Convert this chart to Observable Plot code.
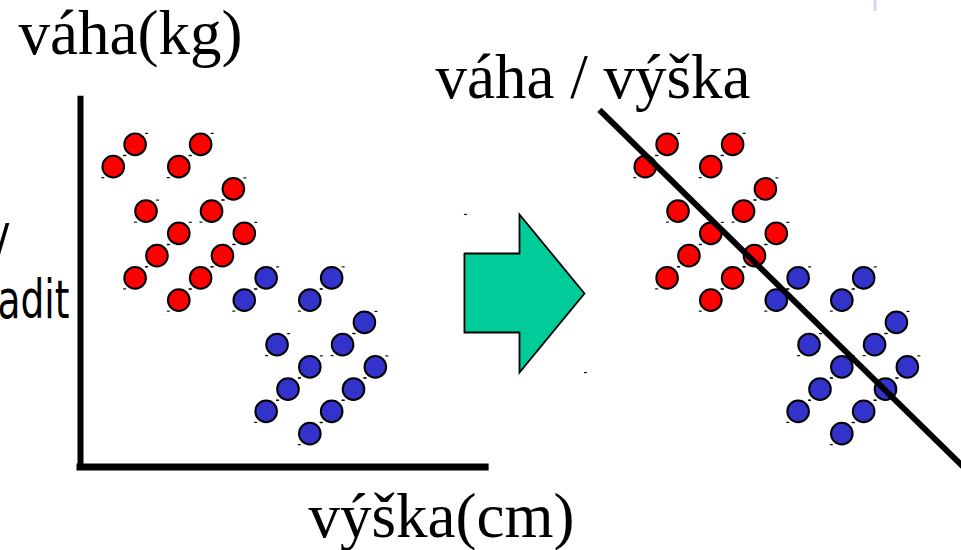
<!DOCTYPE html>
<html>
<head>
<meta charset="utf-8">
<script src="https://cdn.jsdelivr.net/npm/d3@7"></script>
<script src="https://cdn.jsdelivr.net/npm/@observablehq/plot@0.6"></script>
<style>
  html, body { margin: 0; padding: 0; background: #fff; overflow: hidden; }
</style>
</head>
<body>
<div id="chart"></div>
<script>
// ---- data (schematic units; x = výška, y = váha, axis origin at 0,0) ----
const redX  = [5, 3, 11, 9, 14, 6, 12, 9, 15, 7, 13, 5, 11, 9];
const redY  = [29, 27, 29, 27, 25, 23, 23, 21, 21, 19, 19, 17, 17, 15];
const blueX = [17, 15, 23, 21, 26, 18, 24, 21, 27, 19, 25, 17, 23, 21];
const blueY = [17, 15, 17, 15, 13, 11, 11, 9, 9, 7, 7, 5, 5, 3];

// axis extents (left panel)
const axisXExtent = [0, 37.1];   // výška axis
const axisYExtent = [0, 33.05];  // váha axis

// separating line (right panel)
const splitX = [-1.2, 36.6];
const splitY = [32.1, -4.3];

// arrow: tail, neck, tip (x) and head bottom, shaft bottom, centre, shaft top, head top (y)
const arrowX = [35.16, 40.2, 46.15];
const arrowY = [8.49, 12.09, 15.6, 19.19, 22.7];

// slide artifact at top right
const markX = [72.76];
const markY = [41.93, 40.94];

const labelY = "váha(kg)";
const labelX = "výška(cm)";
const labelRight = "váha / výška";
const fragments = ["y", "adit"];

// ---- build tables ----
const red = redX.map((x, i) => ({x, y: redY[i]}));
const blue = blueX.map((x, i) => ({x, y: blueY[i]}));
const split = splitX.map((x, i) => ({x, y: splitY[i]}));
const [tail, neck, tip] = arrowX;
const [hb, sb, mid, st, ht] = arrowY;
const arrow = [
  {x: tail, y: st}, {x: neck, y: st}, {x: neck, y: ht}, {x: tip, y: mid},
  {x: neck, y: hb}, {x: neck, y: sb}, {x: tail, y: sb}, {x: tail, y: st}
];
const arrowCorners = [{x: tail, y: ht}, {x: tip, y: hb}];

const dash = {draw(ctx) { ctx.moveTo(-1.5, -0.6); ctx.lineTo(1.5, -0.6); ctx.lineTo(1.5, 0.6); ctx.lineTo(-1.5, 0.6); ctx.closePath(); }};

const serif = "'Liberation Serif', 'Times New Roman', serif";
const sans = "'DejaVu Sans Condensed', 'DejaVu Sans', sans-serif";
const OFFSET = 532; // right panel shift (px)

function cluster(data, color, shift) {
  return [
    Plot.dot(data, {x: "x", y: "y", r: 10.8, fill: color, stroke: "black", strokeWidth: 2, dx: shift}),
    Plot.dot(data, {x: "x", y: "y", symbol: dash, fill: "#111", stroke: "none", dx: shift + 11.5, dy: -11}),
    Plot.dot(data, {x: "x", y: "y", symbol: dash, fill: "#111", stroke: "none", dx: shift - 10.5, dy: 11})
  ];
}

const chart = Plot.plot({
  width: 961,
  height: 550,
  margin: 0,
  style: {background: "white", color: "black"},
  x: {domain: [-80 / 10.92, (961 - 80) / 10.92], axis: null},
  y: {domain: [(466.5 - 550) / 11.125, 466.5 / 11.125], axis: null},
  marks: [
    // left panel axes
    Plot.ruleX([axisXExtent[0]], {y1: axisYExtent[0], y2: axisYExtent[1], stroke: "black", strokeWidth: 6, strokeLinecap: "square"}),
    Plot.ruleY([axisYExtent[0]], {x1: axisXExtent[0], x2: axisXExtent[1], stroke: "black", strokeWidth: 7, strokeLinecap: "square"}),
    // left clusters
    ...cluster(red, "#ff0000", 0),
    ...cluster(blue, "#3333cc", 0),
    // arrow
    Plot.line(arrow, {x: "x", y: "y", fill: "#00cc99", stroke: "black", strokeWidth: 1.8, strokeLinejoin: "miter", strokeMiterlimit: 10}),
    Plot.dot(arrowCorners, {x: "x", y: "y", symbol: dash, fill: "#111", stroke: "none", dx: 1}),
    // right clusters
    ...cluster(red, "#ff0000", OFFSET),
    ...cluster(blue, "#3333cc", OFFSET),
    // separating line
    Plot.line(split, {x: "x", y: "y", stroke: "black", strokeWidth: 6, strokeLinecap: "butt", dx: OFFSET}),
    // slide artifact
    Plot.ruleX(markX, {y1: markY[0], y2: markY[1], stroke: "#d6d6f8", strokeWidth: 3}),
    // texts
    Plot.text([labelY], {text: d => d, frameAnchor: "top-left", dx: 18, dy: 53, lineAnchor: "bottom", textAnchor: "start", fontSize: 63, fontFamily: serif, fill: "black"}),
    Plot.text([labelRight], {text: d => d, frameAnchor: "top-left", dx: 435, dy: 97, lineAnchor: "bottom", textAnchor: "start", fontSize: 63, fontFamily: serif, fill: "black"}),
    Plot.text([labelX], {text: d => d, frameAnchor: "top-left", dx: 308, dy: 536, lineAnchor: "bottom", textAnchor: "start", fontSize: 63, fontFamily: serif, fill: "black"}),
    Plot.text([fragments[0]], {text: d => d, frameAnchor: "top-left", dx: 10, dy: 251, lineAnchor: "bottom", textAnchor: "end", fontSize: 54, fontFamily: sans, fill: "black"}),
    Plot.text([fragments[1]], {text: d => d, frameAnchor: "top-left", dx: 69, dy: 317, lineAnchor: "bottom", textAnchor: "end", fontSize: 54, fontFamily: sans, fill: "black"})
  ]
});
// the clipped side-label fragments use a condensed face in the original: compress them horizontally
const fragWidth = {"y": 23, "adit": 72};
d3.select(chart).selectAll("text")
  .filter(function() { return fragments.includes(this.textContent); })
  .attr("textLength", function() { return fragWidth[this.textContent]; })
  .attr("lengthAdjust", "spacingAndGlyphs");
document.getElementById("chart").appendChild(chart);
</script>
</body>
</html>
